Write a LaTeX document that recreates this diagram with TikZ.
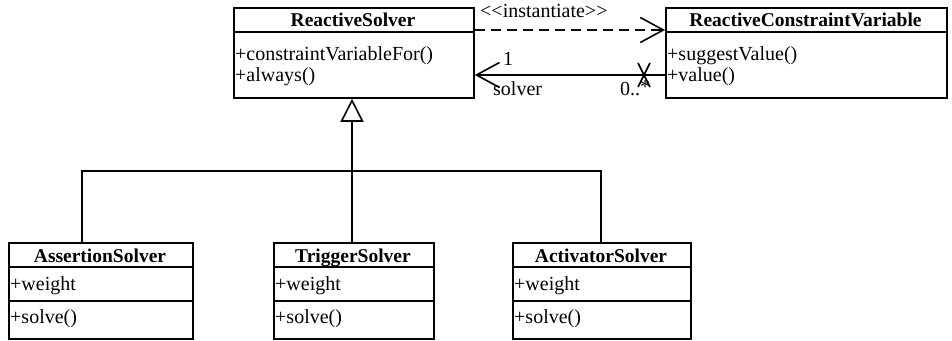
\documentclass[tikz,border=0pt]{standalone}
\usepackage{fontspec}
\setmainfont{Liberation Serif}
\usetikzlibrary{arrows.meta}
\begin{document}
\begin{tikzpicture}[x=1pt,y=-1pt,
  classbox/.style={draw, line width=1.8pt, rectangle, inner sep=0pt, anchor=north west},
  cname/.style={font=\fontsize{19.5}{21}\selectfont\bfseries, inner sep=0pt, anchor=base},
  member/.style={font=\fontsize{20}{22}\selectfont, inner sep=0pt, anchor=base west},
  lbl/.style={font=\fontsize{20}{22}\selectfont, inner sep=0pt, anchor=base west},
  divider/.style={line width=1.4pt},
  conn/.style={line width=1.6pt},
  openv/.style={-{Straight Barb[length=23pt,width=25pt,line width=1.6pt]}},
  gen/.style={-{Triangle[open,length=23pt,width=23pt,line width=1.6pt,fill=white]}}
]
\useasboundingbox (0,0) rectangle (952,340);

% ---- ReactiveSolver ----
\node[classbox, minimum width=240pt, minimum height=90pt] (rs) at (233,7) {};
\draw[divider] (233,32) -- (473,32);
\node[cname] (rsh) at (353,27) {ReactiveSolver};
\node[member] (rs1) at (235,60) {+constraintVariableFor()};
\node[member] (rs2) at (235,81) {+always()};

% ---- ReactiveConstraintVariable ----
\node[classbox, minimum width=281pt, minimum height=90pt] (rcv) at (665,7) {};
\draw[divider] (665,32) -- (946,32);
\node[cname] (rcvh) at (805.5,27) {ReactiveConstraintVariable};
\node[member] (rcv1) at (667,60) {+suggestValue()};
\node[member] (rcv2) at (667,81) {+value()};

% ---- subclasses ----
\node[classbox, minimum width=184pt, minimum height=96pt] (as) at (8,242) {};
\draw[divider] (8,267) -- (192,267);
\draw[divider] (8,301) -- (192,301);
\node[cname] (ash) at (100,262) {AssertionSolver};
\node[member] (as1) at (10,290) {+weight};
\node[member] (as2) at (10,323) {+solve()};

\node[classbox, minimum width=160pt, minimum height=96pt] (ts) at (273,242) {};
\draw[divider] (273,267) -- (433,267);
\draw[divider] (273,301) -- (433,301);
\node[cname] (tsh) at (353,262) {TriggerSolver};
\node[member] (ts1) at (275,290) {+weight};
\node[member] (ts2) at (275,323) {+solve()};

\node[classbox, minimum width=178pt, minimum height=96pt] (ac) at (512,242) {};
\draw[divider] (512,267) -- (690,267);
\draw[divider] (512,301) -- (690,301);
\node[cname] (ach) at (601,262) {ActivatorSolver};
\node[member] (ac1) at (514,290) {+weight};
\node[member] (ac2) at (514,323) {+solve()};

% ---- dependency <<instantiate>> ----
\draw[conn, dash pattern=on 10pt off 6pt, openv]
  ([yshift=-23pt]rs.north east) -- ([yshift=-23pt]rcv.north west);
\node[lbl] (inst) at (480,17) {<\kern0pt<instantiate>\kern0pt>};

% ---- association solver ----
\coordinate (xm) at (644,75);
\draw[conn, openv] ([yshift=-68pt]rcv.north west) -- ([yshift=-68pt]rs.north east);
\draw[conn] ([shift={(-6pt,-12pt)}]xm) -- ([shift={(6pt,12pt)}]xm);
\draw[conn] ([shift={(-6pt,12pt)}]xm) -- ([shift={(6pt,-12pt)}]xm);
\node[lbl] (one) at (503,65) {1};
\node[lbl] (role) at (493,95) {solver};
\node[lbl] (mult) at (620,95) {0..\raisebox{2pt}{*}};

% ---- generalization ----
\coordinate (jn) at (352,171);
\draw[conn, gen] (ts.north -| jn) -- (rs.south -| jn);
\draw[conn] (as.north -| 82,0) |- (jn) -| (ac.north -| 601,0);
\end{tikzpicture}
\end{document}
